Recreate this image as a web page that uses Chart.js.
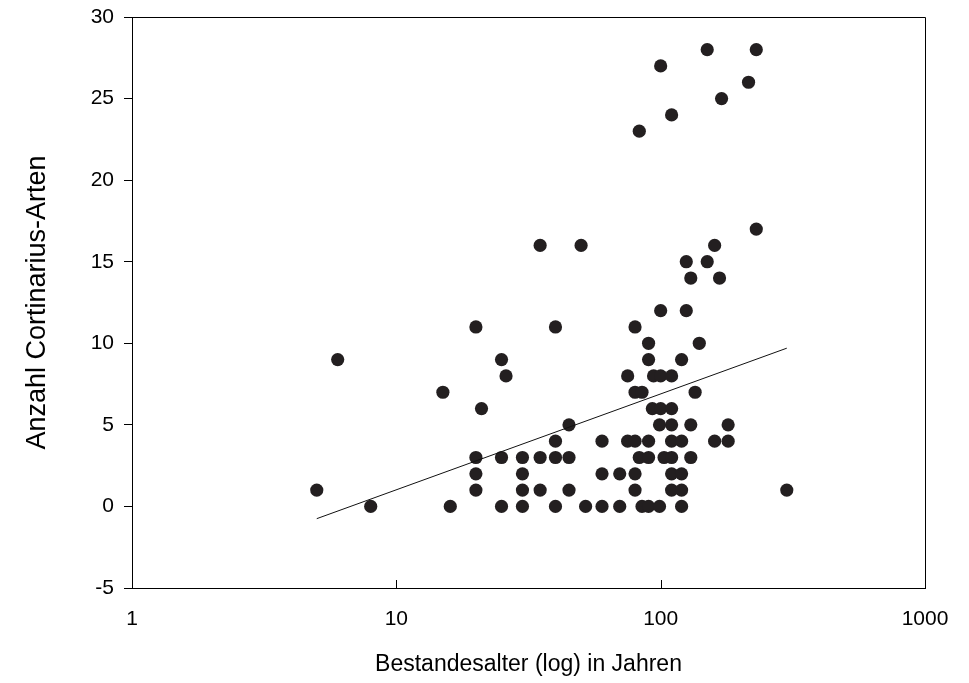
<!DOCTYPE html>
<html><head><meta charset="utf-8">
<script src="https://cdn.jsdelivr.net/npm/chart.js@4/dist/chart.umd.min.js"></script>
<style>html,body{margin:0;padding:0;background:#fff;}#wrap{width:969px;height:683px;}</style>
</head><body><div id="wrap"><canvas id="c" width="969" height="683"></canvas></div>
<script>
// Stand age (years, log axis) and number of Cortinarius species per plot
const ageYears = [
  8, 16, 25, 30, 40, 52, 60, 70, 85, 90, 99, 120,
  5, 20, 30, 35, 45, 80, 110, 120, 300,
  20, 30, 60, 70, 80, 110, 120,
  20, 25, 30, 35, 40, 45, 83, 90, 103, 110, 130,
  40, 60, 75, 80, 90, 110, 120, 160, 180,
  45, 99, 110, 130, 180,
  21, 93, 100, 110,
  15, 80, 85, 135,
  26, 75, 94, 100, 110,
  6, 25, 90, 120,
  90, 140,
  20, 40, 80,
  100, 125,
  130, 167,
  125, 150,
  35, 50, 160,
  230,
  83, 110, 170, 215, 100, 150, 230
];
const speciesCount = [
  0, 0, 0, 0, 0, 0, 0, 0, 0, 0, 0, 0,
  1, 1, 1, 1, 1, 1, 1, 1, 1,
  2, 2, 2, 2, 2, 2, 2,
  3, 3, 3, 3, 3, 3, 3, 3, 3, 3, 3,
  4, 4, 4, 4, 4, 4, 4, 4, 4,
  5, 5, 5, 5, 5,
  6, 6, 6, 6,
  7, 7, 7, 7,
  8, 8, 8, 8, 8,
  9, 9, 9, 9,
  10, 10,
  11, 11, 11,
  12, 12,
  14, 14,
  15, 15,
  16, 16, 16,
  17,
  23, 24, 25, 26, 27, 28, 28
];
// Regression line end points
const fitAge = [5, 300];
const fitCount = [-0.75, 9.7];
// Axes
const xTickValues = [1, 10, 100, 1000];
const yMin = -5, yMax = 30, yStep = 5;
const xTitle = 'Bestandesalter (log) in Jahren';
const yTitle = 'Anzahl Cortinarius-Arten';

const FONT = "'Liberation Sans', Arial, Helvetica, sans-serif";
const points = ageYears.map((a, i) => ({x: a, y: speciesCount[i]}));
const fitLine = fitAge.map((a, i) => ({x: a, y: fitCount[i]}));

const frame = {
  id: 'frame',
  afterDraw(chart) {
    const {ctx, chartArea: a, scales: {x}} = chart;
    ctx.save();
    ctx.strokeStyle = '#000';
    ctx.lineWidth = 1;
    ctx.beginPath();
    ctx.rect(Math.round(a.left) + 0.5, Math.round(a.top) + 0.5, Math.round(a.right - a.left), Math.round(a.bottom - a.top));
    x.ticks.forEach(t => {
      const px = Math.round(x.getPixelForValue(t.value)) + 0.5;
      ctx.moveTo(px, a.bottom);
      ctx.lineTo(px, a.bottom - 8);
    });
    ctx.stroke();
    ctx.restore();
  }
};

new Chart(document.getElementById('c'), {
  data: {
    datasets: [
      {type: 'line', data: fitLine, borderColor: '#111', borderWidth: 1, pointRadius: 0, fill: false, order: 0},
      {type: 'scatter', data: points, backgroundColor: '#231f20', borderWidth: 0, pointRadius: 6.6, pointHoverRadius: 6.6, order: 1}
    ]
  },
  options: {
    responsive: false,
    animation: false,
    devicePixelRatio: 1,
    layout: {padding: {top: 17, right: 44, bottom: 0, left: 0}},
    plugins: {legend: {display: false}, tooltip: {enabled: false}},
    scales: {
      x: {
        type: 'logarithmic', position: 'bottom', min: 1, max: 1000,
        grid: {display: false, drawTicks: false},
        border: {display: true, color: '#000', width: 1},
        afterBuildTicks: s => { s.ticks = xTickValues.map(v => ({value: v})); },
        afterFit: s => { s.height = 95; s.paddingLeft = 0; s.paddingRight = 0; },
        ticks: {color: '#000', font: {family: FONT, size: 21}, padding: 19, maxRotation: 0, autoSkip: false,
          callback: v => String(v)},
        title: {display: true, text: xTitle, color: '#000', font: {family: FONT, size: 23}, padding: {top: 0, bottom: 5}}
      },
      y: {
        type: 'linear', min: yMin, max: yMax,
        grid: {display: true, drawOnChartArea: false, drawTicks: true, tickLength: 8, color: '#000'},
        border: {display: true, color: '#000', width: 1},
        afterFit: s => { s.width = 132; s.paddingTop = 0; s.paddingBottom = 0; },
        ticks: {stepSize: yStep, color: '#000', font: {family: FONT, size: 21}, padding: 10},
        title: {display: true, text: yTitle, color: '#000', font: {family: FONT, size: 27}, padding: {top: 21, bottom: 0}}
      }
    }
  },
  plugins: [frame]
});
</script>
</body></html>
